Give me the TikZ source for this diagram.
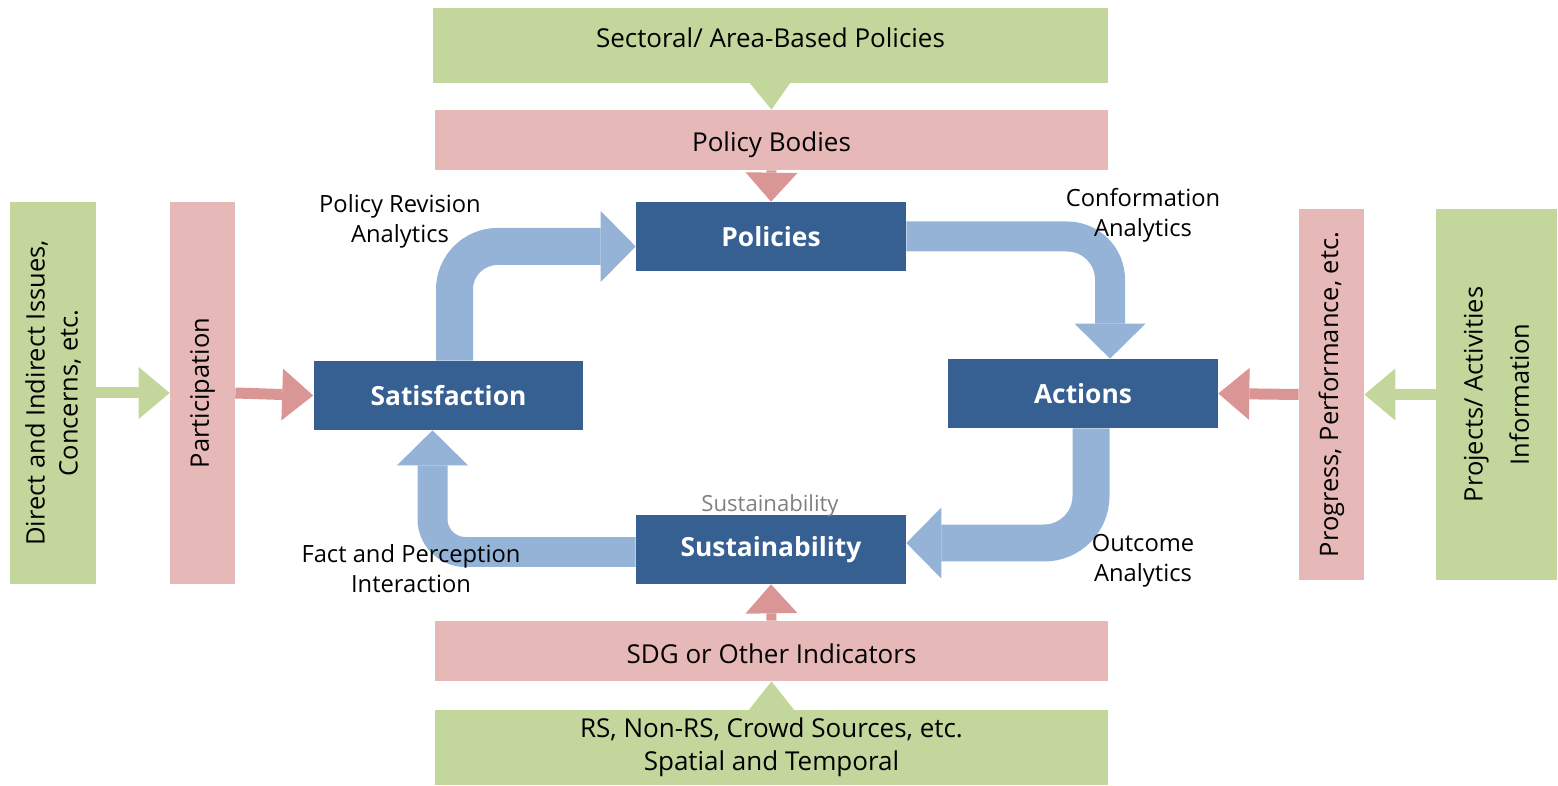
\documentclass[tikz,border=0pt]{standalone}
\usepackage{fontspec}
\setmainfont{Open Sans}
\usetikzlibrary{arrows.meta}
\definecolor{leaf}{HTML}{C3D69B}
\definecolor{rose}{HTML}{E6B9B8}
\definecolor{roseDark}{HTML}{D99694}
\definecolor{navy}{HTML}{376092}
\definecolor{sky}{HTML}{95B3D7}

\begin{document}
\begin{tikzpicture}[x=0.02cm,y=-0.02cm,
  bar/.style={inner sep=0pt, align=center, font=\fontsize{14.8}{18.8}\selectfont},
  upright/.style={bar, rotate=90, font=\fontsize{14.5}{18.8}\selectfont},
  core/.style={fill=navy, text=white, inner sep=0pt, minimum width=5.4cm, minimum height=1.38cm, font=\fontsize{15}{17}\selectfont\bfseries},
  note/.style={inner sep=0pt, align=center, font=\fontsize{13.5}{17.1}\selectfont},
  band/.style={draw=sky, -{Triangle[width=1.42cm,length=0.7cm,line width=0pt]}},
  feed/.style={line width=0.22cm, -{Triangle[width=1.04cm,length=0.62cm,line width=0pt]}},
  wedge/.style={line width=0.2cm, -{Triangle[width=#1,length=0.58cm,line width=0pt]}}]
\useasboundingbox (0,0) rectangle (1558,786);
%\draw [help lines,step=100] (0,0) grid (1558,786);

% horizontal bars, top and bottom
\node [bar, fill=leaf, minimum width=13.5cm, minimum height=1.5cm, text depth=0.3cm] (sect) at (770.5,45.5) {Sectoral/ Area-Based Policies};
\node [bar, fill=rose, minimum width=13.46cm, minimum height=1.2cm, text height=0.6cm] (bodies) at (771.5,140) {Policy Bodies};
\node [bar, fill=rose, minimum width=13.46cm, minimum height=1.2cm, text height=0.51cm] (sdg) at (771.5,651) {SDG or Other Indicators};
\node [bar, fill=leaf, minimum width=13.46cm, minimum height=1.5cm] (sources) at (771.5,747.5) {RS, Non-RS, Crowd Sources, etc.\\Spatial and Temporal};

% vertical bars, left and right
\node [upright, fill=leaf, minimum width=7.64cm, minimum height=1.72cm] (issues) at (53,393) {Direct and Indirect Issues,\\Concerns, etc.};
\node [upright, fill=rose, minimum width=7.64cm, minimum height=1.3cm] (partic) at (202.5,393) {Participation};
\node [upright, fill=rose, minimum width=7.42cm, minimum height=1.3cm] (progress) at (1331.5,394.5) {Progress, Performance, etc.};
\node [upright, fill=leaf, minimum width=7.42cm, minimum height=2.42cm] (projects) at (1496.5,394.5) {Projects/ Activities\\[0.26cm]Information};

% the four core boxes
\node [core] (policies) at (771,236.5) {Policies};
\node [core] (satisf) at (448.5,395.5) {Satisfaction};
\node [core] (actions) at (1083,393.5) {Actions};
\node [core] (sustain) at (771,549.5) {Sustainability};

% cycle arrows
\draw [band, line width=0.74cm, rounded corners=0.86cm] ([xshift=0.12cm]satisf.north) |- ([yshift=-0.2cm]policies.west);
\draw [band, line width=0.6cm, rounded corners=0.86cm] (policies.east) -| ([xshift=0.54cm]actions.north);
\draw [band, line width=0.74cm, rounded corners=0.94cm] ([xshift=0.16cm]actions.south) |- ([yshift=0.13cm]sustain.east);
\draw [band, line width=0.6cm, rounded corners=0.66cm] ([yshift=-0.05cm]sustain.west) -| ([xshift=-0.32cm]satisf.south);

% feeding arrows
\draw [feed, leaf] (issues.south) -- (partic.north);
\draw [feed, roseDark] (partic.south) -- (satisf.west);
\draw [feed, leaf] (projects.north) -- (progress.south);
\draw [feed, roseDark] (progress.north) -- (actions.east);
\draw [wedge=0.88cm, leaf] (sect.south) -- (bodies.north);
\draw [wedge=1.04cm, roseDark] (bodies.south) -- (policies.north);
\draw [wedge=1.04cm, roseDark] (sdg.north) -- (sustain.south);
\draw [wedge=0.92cm, leaf] (sources.north) -- (sdg.south);

% labels on the arrows
\node [note] (revision) at (400,221) {Policy Revision\\Analytics};
\node [note] (conform) at (1143,215) {Conformation\\Analytics};
\node [note] (fact) at (411,569) {Fact and Perception\\Interaction};
\node [note] (outcome) at (1143,560.5) {Outcome\\Analytics};
\node [note, text=gray, font=\fontsize{12.6}{15}\selectfont] (sustag) at (770,506) {Sustainability};
\end{tikzpicture}
\end{document}
